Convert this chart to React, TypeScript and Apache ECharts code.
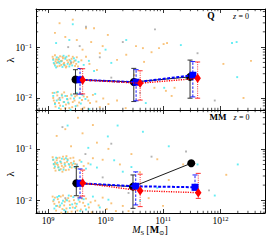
import React, { useEffect, useRef } from 'react';
import * as echarts from 'echarts';

const FONT = "'Liberation Serif', 'DejaVu Serif', serif";

// axis ranges
const massMin = 6.17e8;
const massMax = 5.94e12;
const lambdaMin = 0.0058;
const lambdaMax = 0.562;

// minor tick values
const massMinorTicks = [
  7e8, 8e8, 9e8,
  2e9, 3e9, 4e9, 5e9, 6e9, 7e9, 8e9, 9e9,
  2e10, 3e10, 4e10, 5e10, 6e10, 7e10, 8e10, 9e10,
  2e11, 3e11, 4e11, 5e11, 6e11, 7e11, 8e11, 9e11,
  2e12, 3e12, 4e12, 5e12,
];
const lambdaMinorTicks = [
  0.006, 0.007, 0.008, 0.009,
  0.02, 0.03, 0.04, 0.05, 0.06, 0.07, 0.08, 0.09,
  0.2, 0.3, 0.4, 0.5,
];

// ---------- panel Q (top) : binned medians ----------
const qBlackM = [3.0e9, 3.1e10, 2.95e11];
const qBlackL = [0.0231, 0.0206, 0.026];
const qBlackLo = [0.012, 0.0085, 0.0099];
const qBlackHi = [0.036, 0.0382, 0.0556];

const qBlueM = [3.6e9, 3.4e10, 3.3e11];
const qBlueL = [0.0228, 0.0204, 0.028];
const qBlueLo = [0.0119, 0.0088, 0.0105];
const qBlueHi = [0.038, 0.036, 0.052];

const qRedM = [4.0e9, 4.0e10, 4.0e11];
const qRedL = [0.0225, 0.0195, 0.0243];
const qRedLo = [0.012, 0.0091, 0.0099];
const qRedHi = [0.0376, 0.0343, 0.051];

// ---------- panel MM (bottom) : binned medians ----------
const mmBlackM = [3.1e9, 3.0e10, 3.1e11];
const mmBlackL = [0.0217, 0.0187, 0.0528];
const mmBlackLo = [0.0125, 0.00713, null];
const mmBlackHi = [0.0455, 0.0314, null];

const mmBlueM = [3.6e9, 3.35e10, 3.6e11];
const mmBlueL = [0.0217, 0.019, 0.0182];
const mmBlueLo = [0.0113, 0.0083, 0.016];
const mmBlueHi = [0.041, 0.036, 0.0314];

const mmRedM = [4.0e9, 4.0e10, 4.1e11];
const mmRedL = [0.022, 0.0156, 0.0143];
const mmRedLo = [0.0123, 0.0077, 0.0111];
const mmRedHi = [0.039, 0.0325, 0.0337];

// ---------- individual galaxies: [log10 M_S, log10 lambda] ----------
const qOrange = [
  [9.08, -1.19], [9.11, -1.33], [9.14, -1.24], [9.16, -1.38], [9.19, -1.29], [9.21, -1.18], [9.23, -1.35],
  [9.26, -1.22], [9.28, -1.31], [9.31, -1.40], [9.33, -1.26], [9.36, -1.17], [9.38, -1.34], [9.41, -1.23],
  [9.44, -1.30], [9.47, -1.37], [9.50, -1.20], [9.13, -1.28], [9.24, -1.27], [9.35, -1.30], [9.18, -1.21],
  [9.29, -1.36], [9.58, -1.26], [9.66, -1.19], [9.72, -1.33],
  [9.09, -1.23], [9.12, -1.16], [9.15, -1.31], [9.17, -1.25], [9.20, -1.37], [9.22, -1.27], [9.25, -1.19],
  [9.27, -1.33], [9.30, -1.21], [9.32, -1.38], [9.37, -1.25], [9.40, -1.32], [9.43, -1.19], [9.46, -1.27],
  [9.49, -1.33], [9.52, -1.38],
  [9.08, -1.90], [9.10, -2.05], [9.13, -2.17], [9.16, -1.95], [9.19, -2.10], [9.22, -2.22], [9.25, -1.99],
  [9.28, -1.89], [9.31, -2.13], [9.34, -2.03], [9.37, -2.20], [9.40, -1.93], [9.43, -2.08], [9.47, -1.97],
  [9.51, -2.15], [9.55, -1.91], [9.59, -2.04], [9.63, -2.19], [9.68, -1.98], [9.73, -2.10], [9.78, -1.94],
  [9.84, -2.07], [9.90, -2.18], [9.96, -2.01], [10.05, -2.12], [10.2, -2.05], [10.35, -2.2],
  [9.09, -2.00], [9.12, -2.10], [9.15, -1.89], [9.18, -2.03], [9.21, -2.15], [9.24, -1.93], [9.27, -2.08],
  [9.30, -2.20], [9.33, -1.96], [9.36, -2.11], [9.39, -2.01], [9.42, -2.18], [9.46, -2.05], [9.50, -1.95],
  [9.54, -2.09], [9.58, -2.22], [9.62, -1.97], [9.70, -2.05],
  [9.20, -0.53], [9.43, -0.46], [9.66, -0.63], [9.80, -0.63], [10.04, -0.76], [9.30, -0.80], [9.50, -0.86],
  [9.75, -0.90], [9.95, -0.98], [10.53, -0.98], [10.65, -1.02], [9.90, -1.12], [10.36, -1.15], [9.60, -1.05],
  [10.2, -1.25], [11.07, -0.92], [11.01, -0.94], [10.93, -1.02], [10.80, -1.10], [10.67, -1.29], [12.53, -1.27],
  [12.05, -1.33], [11.20, -1.80], [10.85, -1.80], [11.05, -1.86], [11.15, -1.96], [10.50, -1.55], [12.4, -2.0],
  [9.12, -0.72], [9.85, -1.45],
];
const qCyan = [
  [9.09, -1.25], [9.12, -1.36], [9.15, -1.20], [9.20, -1.32], [9.25, -1.39], [9.30, -1.23], [9.34, -1.33],
  [9.39, -1.27], [9.45, -1.22], [9.17, -1.30], [9.27, -1.17], [9.42, -1.36], [9.53, -1.29], [9.62, -1.35],
  [9.10, -1.31], [9.14, -1.40], [9.19, -1.24], [9.23, -1.28], [9.28, -1.35], [9.32, -1.19], [9.37, -1.38],
  [9.48, -1.26],
  [9.09, -1.96], [9.12, -2.12], [9.17, -1.88], [9.21, -2.04], [9.26, -2.16], [9.30, -1.96], [9.35, -2.09],
  [9.39, -2.23], [9.45, -2.01], [9.50, -1.90], [9.57, -2.11], [9.65, -2.02], [9.72, -2.22], [9.82, -1.92],
  [9.11, -1.90], [9.15, -2.05], [9.19, -2.20], [9.24, -1.95], [9.28, -2.08], [9.33, -2.02], [9.41, -1.95],
  [9.48, -2.16], [9.55, -2.00], [9.60, -1.94],
  [9.43, -0.55], [9.37, -0.86], [9.14, -0.92], [10.36, -0.86], [9.71, -1.27], [10.10, -1.31], [9.80, -1.47],
  [11.31, -0.96], [12.20, -0.92], [12.28, -0.90], [12.29, -1.59], [11.02, -1.80], [10.70, -2.10], [11.40, -1.62],
  [10.0, -1.05],
];
const qGrey = [
  [9.66, -0.60], [10.86, -0.65], [9.55, -0.98], [10.30, -0.90], [11.60, -1.12], [9.90, -1.20], [11.90, -2.05],
  [10.1, -1.6], [9.35, -1.0], [10.6, -1.9], [9.2, -2.0], [9.4, -1.3],
];

const mmOrange = [
  [9.08, -1.16], [9.10, -1.30], [9.13, -1.42], [9.15, -1.22], [9.18, -1.35], [9.20, -1.17], [9.23, -1.28],
  [9.25, -1.44], [9.28, -1.20], [9.30, -1.33], [9.33, -1.25], [9.36, -1.40], [9.39, -1.18], [9.42, -1.31],
  [9.45, -1.24], [9.48, -1.37], [9.12, -1.26], [9.22, -1.39], [9.32, -1.14], [9.40, -1.27], [9.17, -1.31],
  [9.27, -1.36], [9.55, -1.22], [9.62, -1.33], [9.70, -1.28], [9.78, -1.18],
  [9.09, -1.21], [9.11, -1.37], [9.14, -1.29], [9.16, -1.18], [9.19, -1.41], [9.21, -1.24], [9.24, -1.33],
  [9.26, -1.15], [9.29, -1.27], [9.31, -1.41], [9.34, -1.20], [9.37, -1.31], [9.41, -1.36], [9.44, -1.17],
  [9.47, -1.29], [9.51, -1.34],
  [9.08, -1.92], [9.11, -2.06], [9.14, -2.19], [9.17, -1.97], [9.20, -2.12], [9.23, -2.23], [9.26, -1.90],
  [9.29, -2.02], [9.32, -2.15], [9.35, -1.95], [9.38, -2.08], [9.41, -2.21], [9.45, -1.99], [9.49, -2.11],
  [9.53, -1.93], [9.57, -2.17], [9.61, -2.04], [9.66, -1.96], [9.71, -2.13], [9.76, -2.22], [9.82, -2.00],
  [9.88, -2.09], [9.95, -1.94], [10.02, -2.16], [10.10, -2.05], [10.18, -2.20], [10.3, -2.1],
  [9.09, -2.01], [9.12, -1.94], [9.16, -2.10], [9.19, -2.03], [9.22, -1.92], [9.25, -2.16], [9.28, -2.09],
  [9.31, -1.98], [9.34, -2.22], [9.37, -2.01], [9.40, -1.91], [9.43, -2.13], [9.47, -2.05], [9.51, -2.19],
  [9.55, -2.02], [9.59, -1.96], [9.64, -2.10], [9.74, -2.03],
  [9.52, -0.40], [9.78, -0.54], [9.15, -0.75], [9.60, -0.70], [9.40, -0.95], [9.85, -0.88], [10.05, -1.00],
  [9.95, -1.21], [10.25, -1.30], [10.45, -1.10], [10.60, -1.45], [10.90, -1.20], [11.10, -1.60], [11.35, -1.30],
  [10.75, -1.95], [11.0, -2.1], [11.6, -1.75], [12.1, -1.5], [10.4, -2.2], [9.3, -0.62],
];
const mmCyan = [
  [9.09, -1.21], [9.12, -1.34], [9.16, -1.27], [9.20, -1.41], [9.24, -1.19], [9.29, -1.30], [9.34, -1.22],
  [9.38, -1.35], [9.44, -1.28], [9.50, -1.32], [9.58, -1.25], [9.66, -1.38], [9.74, -1.30], [9.85, -1.36],
  [9.10, -1.29], [9.14, -1.17], [9.18, -1.36], [9.22, -1.25], [9.27, -1.40], [9.31, -1.18], [9.36, -1.29],
  [9.46, -1.35],
  [9.10, -1.98], [9.14, -2.10], [9.19, -1.91], [9.24, -2.05], [9.28, -2.18], [9.33, -1.99], [9.38, -2.14],
  [9.44, -1.93], [9.50, -2.06], [9.56, -2.20], [9.62, -1.97], [9.70, -2.07], [9.78, -1.92], [9.90, -2.13],
  [10.05, -1.98],
  [9.11, -2.15], [9.16, -1.93], [9.21, -2.09], [9.26, -2.00], [9.31, -2.21], [9.36, -1.90], [9.42, -2.07],
  [9.47, -2.14], [9.53, -1.98], [9.66, -2.17],
  [9.34, -0.55], [10.21, -0.55], [10.65, -0.67], [10.04, -0.76], [9.70, -0.98], [10.30, -1.44], [10.15, -1.22],
  [10.45, -1.35], [11.10, -0.95], [11.6, -1.3], [12.3, -1.3], [10.9, -1.75], [11.9, -1.9], [10.6, -2.0],
];
const mmGrey = [
  [9.25, -0.58], [10.10, -0.90], [9.65, -1.10], [10.8, -1.15], [11.4, -1.05], [9.95, -1.55], [11.8, -1.8],
  [10.4, -1.85], [9.3, -1.95], [9.5, -1.3],
];

const toPts = (a: number[][]) => a.map(([lm, ll]) => [Math.pow(10, lm), Math.pow(10, ll)]);

const powLabel = (v: number) => {
  const lg = Math.log10(v);
  const e = Math.round(lg);
  if (Math.abs(lg - e) > 1e-6) return '';
  return `{b|10}{s|${e < 0 ? '\u2212' + -e : e}}`;
};
const powRich = {
  b: { fontSize: 9.5, fontFamily: FONT, color: '#000', verticalAlign: 'bottom', lineHeight: 11 },
  s: { fontSize: 6.5, fontFamily: FONT, color: '#000', verticalAlign: 'top', lineHeight: 11 },
};

const mkX = (g: number, position: string, labels: boolean) => ({
  type: 'log',
  logBase: 10,
  gridIndex: g,
  position,
  min: massMin,
  max: massMax,
  axisLine: { show: true, onZero: false, lineStyle: { color: '#000', width: 1 } },
  axisTick: { show: true, inside: true, length: 4, lineStyle: { color: '#000', width: 0.8 } },
  axisLabel: { show: labels, margin: 2, formatter: powLabel, rich: powRich, color: '#000' },
  splitLine: { show: false },
});
const mkY = (g: number, position: string, labels: boolean) => ({
  type: 'log',
  logBase: 10,
  gridIndex: g,
  position,
  min: lambdaMin,
  max: lambdaMax,
  axisLine: { show: true, onZero: false, lineStyle: { color: '#000', width: 1 } },
  axisTick: { show: true, inside: true, length: 4, lineStyle: { color: '#000', width: 0.8 } },
  axisLabel: { show: labels, margin: 4, formatter: powLabel, rich: powRich, color: '#000' },
  splitLine: { show: false },
});

const errRender = (color: string, dash: number[] | null, width: number) => (params: any, api: any) => {
  const x = api.value(0);
  const pLo = api.coord([x, api.value(1)]);
  const pHi = api.coord([x, api.value(2)]);
  const cap = 2.5;
  const capStyle = { stroke: color, lineWidth: width };
  return {
    type: 'group',
    children: [
      {
        type: 'line',
        shape: { x1: pLo[0], y1: pLo[1], x2: pHi[0], y2: pHi[1] },
        style: dash ? { stroke: color, lineWidth: width, lineDash: dash } : capStyle,
      },
      { type: 'line', shape: { x1: pLo[0] - cap, y1: pLo[1], x2: pLo[0] + cap, y2: pLo[1] }, style: capStyle },
      { type: 'line', shape: { x1: pHi[0] - cap, y1: pHi[1], x2: pHi[0] + cap, y2: pHi[1] }, style: capStyle },
    ],
  };
};

const minorX = (params: any, api: any) => {
  const cs = params.coordSys;
  const px = api.coord([api.value(0), api.value(1)])[0];
  const st = { stroke: '#000', lineWidth: 0.7 };
  return {
    type: 'group',
    children: [
      { type: 'line', shape: { x1: px, y1: cs.y, x2: px, y2: cs.y + 2.2 }, style: st },
      { type: 'line', shape: { x1: px, y1: cs.y + cs.height, x2: px, y2: cs.y + cs.height - 2.2 }, style: st },
    ],
  };
};
const minorY = (params: any, api: any) => {
  const cs = params.coordSys;
  const py = api.coord([api.value(0), api.value(1)])[1];
  const st = { stroke: '#000', lineWidth: 0.7 };
  return {
    type: 'group',
    children: [
      { type: 'line', shape: { x1: cs.x, y1: py, x2: cs.x + 2.2, y2: py }, style: st },
      { type: 'line', shape: { x1: cs.x + cs.width, y1: py, x2: cs.x + cs.width - 2.2, y2: py }, style: st },
    ],
  };
};

const ORANGE = '#F7B45A';
const CYAN = '#3DE8F0';
const GREY = '#A0A0A0';

function panelSeries(
  g: number,
  orange: number[][], cyan: number[][], grey: number[][],
  bM: number[], bL: number[], bLo: (number | null)[], bHi: (number | null)[],
  uM: number[], uL: number[], uLo: number[], uHi: number[],
  rM: number[], rL: number[], rLo: number[], rHi: number[],
) {
  const ax = { xAxisIndex: g * 2, yAxisIndex: g * 2 };
  const sc = (data: number[][], color: string) => ({
    type: 'scatter', ...ax, data: toPts(data), symbol: 'rect', symbolSize: 1.9,
    itemStyle: { color, opacity: 0.8 }, silent: true, z: 1,
  });
  const err = (M: number[], lo: (number | null)[], hi: (number | null)[], color: string, dash: number[] | null, w: number, z: number) => ({
    type: 'custom', ...ax,
    data: M.map((m, i) => [m, lo[i], hi[i]]).filter((d) => d[1] != null && d[2] != null),
    encode: { x: 0, y: [1, 2] },
    renderItem: errRender(color, dash, w), silent: true, clip: false, z,
  });
  const ln = (M: number[], L: number[], color: string, lineType: any, w: number, symbol: string, size: any, z: number) => ({
    type: 'line', ...ax, data: M.map((m, i) => [m, L[i]]),
    symbol, symbolSize: size, showSymbol: true,
    itemStyle: { color, opacity: 1 },
    lineStyle: { color, width: w, type: lineType },
    silent: true, z,
  });
  return [
    sc(orange, ORANGE),
    sc(cyan, CYAN),
    sc(grey, GREY),
    err(bM, bLo, bHi, '#333', null, 1, 2),
    err(uM, uLo, uHi, '#1a1aff', [2.5, 1.5], 1, 2),
    err(rM, rLo, rHi, '#ff3030', [1, 1.2], 1, 2),
    ln(bM, bL, '#000', 'solid', 0.9, 'circle', 8, 3),
    ln(uM, uL, '#0000ff', [3, 1.6], 2, 'rect', 7, 4),
    ln(rM, rL, '#ff0000', [1.2, 1.2], 1.4, 'diamond', [6.5, 9.5], 5),
    {
      type: 'custom', ...ax, data: massMinorTicks.map((v) => [v, 0.01]),
      renderItem: minorX, silent: true, clip: false, z: 6,
    },
    {
      type: 'custom', ...ax, data: lambdaMinorTicks.map((v) => [1e10, v]),
      renderItem: minorY, silent: true, clip: false, z: 6,
    },
  ];
}

function buildOption() {
  const xAxes: any[] = [];
  const yAxes: any[] = [];
  for (let g = 0; g < 2; g++) {
    xAxes.push(mkX(g, 'bottom', g === 1));
    xAxes.push(mkX(g, 'top', false));
    yAxes.push(mkY(g, 'left', true));
    yAxes.push(mkY(g, 'right', false));
  }
  const txt = (x: number, y: number, text: string, extra: any = {}, rich?: any) => ({
    type: 'text', x, y, silent: true, z: 10,
    style: {
      text, fill: '#000', fontFamily: FONT, fontSize: 9, align: 'center', verticalAlign: 'middle',
      ...(rich ? { rich } : {}), ...extra,
    },
  });
  const zRich = {
    i: { fontStyle: 'italic', fontSize: 8, fontFamily: FONT, fill: '#000' },
    n: { fontSize: 8, fontFamily: FONT, fill: '#000' },
  };
  const xRich = {
    i: { fontStyle: 'italic', fontSize: 10, fontFamily: FONT, fill: '#000', verticalAlign: 'top', lineHeight: 11 },
    n: { fontSize: 10, fontFamily: FONT, fill: '#000', verticalAlign: 'top', lineHeight: 11 },
    b: { fontWeight: 'bold', fontSize: 10, fontFamily: FONT, fill: '#000', verticalAlign: 'top', lineHeight: 11 },
    s: { fontSize: 6.5, fontFamily: FONT, fill: '#000', verticalAlign: 'bottom', lineHeight: 11 },
  };
  return {
    animation: false,
    backgroundColor: '#fff',
    grid: [
      { left: 36, top: 9, width: 229, height: 101 },
      { left: 36, top: 110, width: 229, height: 103 },
    ],
    xAxis: xAxes,
    yAxis: yAxes,
    series: [
      ...panelSeries(0, qOrange, qCyan, qGrey,
        qBlackM, qBlackL, qBlackLo, qBlackHi,
        qBlueM, qBlueL, qBlueLo, qBlueHi,
        qRedM, qRedL, qRedLo, qRedHi),
      ...panelSeries(1, mmOrange, mmCyan, mmGrey,
        mmBlackM, mmBlackL, mmBlackLo, mmBlackHi,
        mmBlueM, mmBlueL, mmBlueLo, mmBlueHi,
        mmRedM, mmRedL, mmRedLo, mmRedHi),
    ],
    graphic: [
      { ...txt(10, 60, 'λ', { fontSize: 11 }), rotation: Math.PI / 2 },
      { ...txt(10, 174, 'λ', { fontSize: 11 }), rotation: Math.PI / 2 },
      txt(211, 16, 'Q', { fontWeight: 'bold', fontSize: 9.5 }),
      txt(241, 16, '{i|z} {n|= 0}', {}, zRich),
      txt(218, 117, 'MM', { fontWeight: 'bold', fontSize: 9 }),
      txt(241.5, 117, '{i|z} {n|= 0}', {}, zRich),
      txt(150, 230, '{i|M}{s|S} {n|[}{b|M}{s|⊙}{n|]}', {}, xRich),
    ],
  };
}

export default function App() {
  const ref = useRef<HTMLDivElement>(null);
  useEffect(() => {
    if (!ref.current) return;
    const chart = echarts.init(ref.current, undefined, { renderer: 'svg' });
    chart.setOption(buildOption() as any);
    return () => chart.dispose();
  }, []);
  return (
    <div
      ref={ref}
      style={{ position: 'fixed', left: 0, top: 0, width: 269, height: 245, background: '#fff' }}
    />
  );
}
